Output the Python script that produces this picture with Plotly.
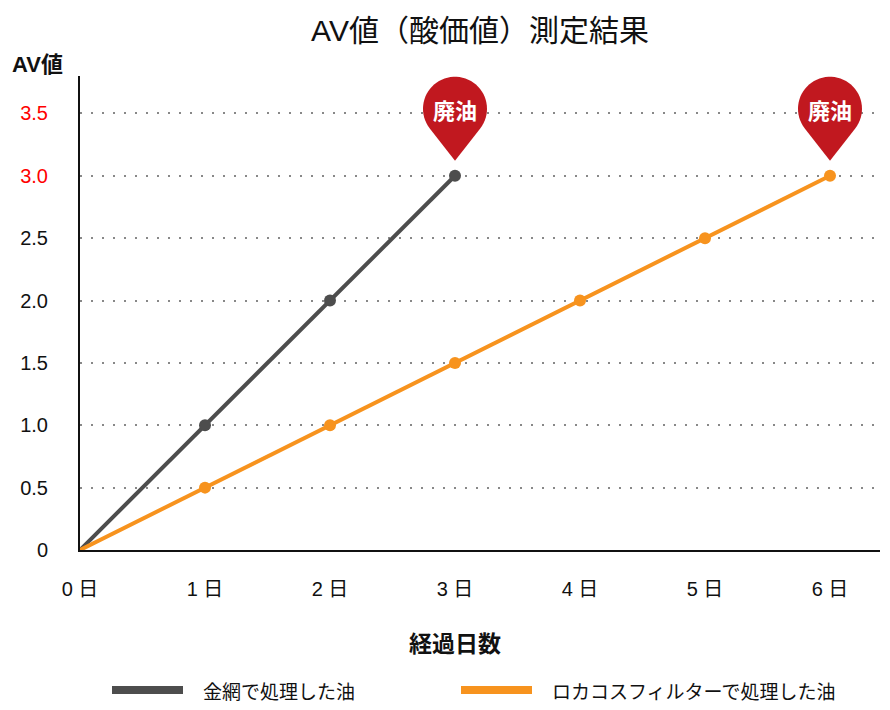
import numpy as np
import plotly.graph_objects as go

# -------------------------------
# Data
# -------------------------------

days = [0, 1, 2, 3, 4, 5, 6]
day_labels = ["0 日", "1 日", "2 日", "3 日", "4 日", "5 日", "6 日"]

wire_days = [0, 1, 2, 3]
wire_av = [0, 1.0, 2.0, 3.0]

roka_days = [0, 1, 2, 3, 4, 5, 6]
roka_av = [0, 0.5, 1.0, 1.5, 2.0, 2.5, 3.0]

series_names = ["金網で処理した油", "ロカコスフィルターで処理した油"]

y_ticks = [0, 0.5, 1.0, 1.5, 2.0, 2.5, 3.0, 3.5]
y_tick_labels = ["0", "0.5", "1.0", "1.5", "2.0", "2.5", "3.0", "3.5"]
red_ticks = {"3.0", "3.5"}

pin_text = "廃油"

FONT = "'Liberation Sans', Arial, 'Noto Sans CJK JP', sans-serif"
CJK = "'Noto Sans CJK JP', sans-serif"
GRAY = "#4d4d4d"
ORANGE = "#f7931e"
PIN_RED = "#c1181f"
colors = [GRAY, ORANGE]

# page body has an 8px margin, so the figure is drawn 8px smaller
W, H = 882, 702

# -------------------------------
# Helpers
# -------------------------------


def pin_path(r=32, cy=67, tip=15, n=48):
    # teardrop outline in pixel offsets (y up)
    d = cy - tip
    th = np.arccos(r / d)
    angles = np.linspace(-np.pi / 2 + th, 3 * np.pi / 2 - th, n)
    pts = [(0, tip)] + [(r * np.cos(a), cy + r * np.sin(a)) for a in angles]
    return "M " + " L ".join(f"{x:.2f},{y:.2f}" for x, y in pts) + " Z"


def sizes(n):
    # no dot at the origin
    return [0] + [12] * (n - 1)


# -------------------------------
# Figure
# -------------------------------

fig = go.Figure()

for xs, ys, name, c in [
    (wire_days, wire_av, series_names[0], colors[0]),
    (roka_days, roka_av, series_names[1], colors[1]),
]:
    fig.add_trace(
        go.Scatter(
            x=xs,
            y=ys,
            mode="lines+markers",
            line=dict(color=c, width=4),
            marker=dict(
                color=c, size=sizes(len(xs)), opacity=1, line=dict(width=0)
            ),
            name=name,
            showlegend=False,
        )
    )

# pins at the last point of each series
for xs, ys in [(wire_days, wire_av), (roka_days, roka_av)]:
    fig.add_shape(
        type="path",
        xsizemode="pixel",
        ysizemode="pixel",
        xanchor=xs[-1],
        yanchor=ys[-1],
        path=pin_path(),
        fillcolor=PIN_RED,
        line=dict(width=0),
        layer="above",
    )
    fig.add_annotation(
        x=xs[-1],
        y=ys[-1],
        yshift=67,
        text=pin_text,
        showarrow=False,
        font=dict(family=CJK, size=22, color="white", weight=700),
    )

# y axis label
fig.add_annotation(
    xref="paper",
    yref="paper",
    x=-0.0875,
    y=1.024,
    xanchor="left",
    yanchor="middle",
    text="AV値",
    showarrow=False,
    font=dict(family=FONT, size=22, color="#111", weight=700),
)

# x axis title (centred under the "3 日" tick, as in the original)
fig.add_annotation(
    xref="paper",
    yref="paper",
    x=0.46875,
    y=-0.194,
    xanchor="center",
    yanchor="middle",
    text="経過日数",
    showarrow=False,
    font=dict(family=CJK, size=23, color="#111", weight=700),
)

# legend drawn by hand (wide thick swatches)
leg_y = -0.2954
for i, (name, c) in enumerate(zip(series_names, colors)):
    x0 = [0.04, 0.47625][i]
    fig.add_shape(
        type="line",
        xref="paper",
        yref="paper",
        x0=x0,
        x1=x0 + 0.08875,
        y0=leg_y,
        y1=leg_y,
        line=dict(color=c, width=8),
    )
    fig.add_annotation(
        xref="paper",
        yref="paper",
        x=x0 + 0.11125,
        y=leg_y,
        xanchor="left",
        yanchor="middle",
        text=name,
        showarrow=False,
        font=dict(family=CJK, size=19, color="#111"),
    )

ticktext = [
    f"<span style='color:#ff0000'>{t}</span>" if t in red_ticks else t
    for t in y_tick_labels
]

fig.update_layout(
    width=W,
    height=H,
    margin=dict(l=72, r=10, t=68, b=160),
    paper_bgcolor="white",
    plot_bgcolor="white",
    font=dict(family=FONT, size=20, color="#111"),
    showlegend=False,
    title=dict(
        text="AV値（酸価値）測定結果",
        x=0.5,
        xref="paper",
        xanchor="center",
        y=1 - 22 / H,
        yref="container",
        yanchor="middle",
        font=dict(family=FONT, size=30, color="#111"),
    ),
    xaxis=dict(
        range=[0, 6.4],
        tickvals=days,
        ticktext=day_labels,
        showgrid=False,
        zeroline=False,
        showline=True,
        linecolor="#111",
        linewidth=2,
        ticks="",
        ticklabelstandoff=20,
        automargin=False,
    ),
    yaxis=dict(
        range=[0, 3.8],
        tickvals=y_ticks,
        ticktext=ticktext,
        showgrid=True,
        gridcolor="#888",
        gridwidth=2,
        griddash="2px,9px",
        zeroline=False,
        showline=True,
        linecolor="#111",
        linewidth=2,
        ticks="",
        ticklabelstandoff=26,
        automargin=False,
    ),
)

fig.write_html("out.html")
